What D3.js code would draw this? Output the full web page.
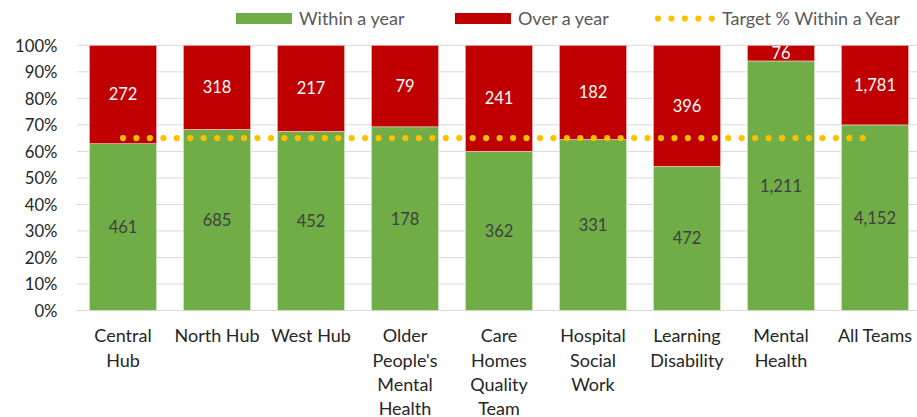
<!DOCTYPE html>
<html><head><meta charset="utf-8">
<script src="https://cdn.jsdelivr.net/npm/d3@7"></script>
<style>
html,body{margin:0;padding:0;background:#fff;}
svg{display:block;font-family:Lato, "Open Sans", sans-serif;}
</style></head>
<body><svg id="c" width="917" height="417"></svg>
<script>
const categories = [["Central","Hub"],["North Hub"],["West Hub"],["Older","People's","Mental","Health"],["Care","Homes","Quality","Team"],["Hospital","Social","Work"],["Learning","Disability"],["Mental","Health"],["All Teams"]];
const withinYear = [461,685,452,178,362,331,472,1211,4152];
const overYear = [272,318,217,79,241,182,396,76,1781];
const targetPct = 0.65;
const yTicks = [0,0.1,0.2,0.3,0.4,0.5,0.6,0.7,0.8,0.9,1];
const seriesNames = ["Within a year","Over a year","Target % Within a Year"];
const colors = {within:"#70ad47", over:"#c00000", target:"#ffc000"};

const svg = d3.select("#c");
const idx = d3.range(categories.length);
const x = d3.scaleBand().domain(idx).range([76, 922]).paddingInner(0.285).paddingOuter(0.1425);
const y = d3.scaleLinear().domain([0,1]).range([310.5, 45.3]);
const fmt = d3.format(",");

// gridlines
svg.append("g").selectAll("line").data(yTicks).join("line")
  .attr("x1",77).attr("x2",917).attr("y1",d=>y(d)).attr("y2",d=>y(d))
  .attr("stroke","#d9d9d9").attr("stroke-width",1);

// y axis labels
const yAxis = d3.axisLeft(y).tickValues(yTicks).tickFormat(d3.format(".0%")).tickSize(0).tickPadding(0);
const ga = svg.append("g").attr("transform","translate(57.5,0)").call(yAxis);
ga.select(".domain").remove();
ga.selectAll("text").attr("font-size",16.7).attr("fill","#262626").attr("font-family","Lato, sans-serif").attr("dy","0.36em");

const data = idx.map(i=>{
  const t = withinYear[i]+overYear[i];
  return {i, w: withinYear[i], o: overYear[i], pw: withinYear[i]/t};
});

const bars = svg.append("g");
bars.selectAll("rect.w").data(data).join("rect").attr("class","w")
  .attr("x",d=>x(d.i)).attr("width",x.bandwidth())
  .attr("y",d=>y(d.pw)).attr("height",d=>y(0)-y(d.pw))
  .attr("fill",colors.within).attr("stroke","#e2efd9").attr("stroke-width",0.6);
bars.selectAll("rect.o").data(data).join("rect").attr("class","o")
  .attr("x",d=>x(d.i)).attr("width",x.bandwidth())
  .attr("y",y(1)).attr("height",d=>y(d.pw)-y(1))
  .attr("fill",colors.over).attr("stroke","#f2caca").attr("stroke-width",0.6);

// target dotted line
const line = d3.line().x(d=>d[0]).y(d=>d[1]);
svg.append("path")
  .attr("d", line([[x(0)+x.bandwidth()/2, y(targetPct)],[x(idx.length-1)+x.bandwidth()/2, y(targetPct)]]))
  .attr("stroke",colors.target).attr("stroke-width",6.2).attr("stroke-linecap","round")
  .attr("stroke-dasharray","0 13.45").attr("fill","none");

// data labels
const lab = svg.append("g").attr("font-size",16.5).attr("text-anchor","middle");
lab.selectAll("text.o").data(data).join("text")
  .attr("x",d=>x(d.i)+x.bandwidth()/2).attr("y",d=>(y(1)+y(d.pw))/2).attr("dy","0.36em")
  .attr("fill","#ffffff").text(d=>fmt(d.o));
lab.selectAll("text.w").data(data).join("text")
  .attr("x",d=>x(d.i)+x.bandwidth()/2).attr("y",d=>(y(0)+y(d.pw))/2).attr("dy","0.36em")
  .attr("fill","#404040").text(d=>fmt(d.w));

// x labels
const xl = svg.append("g").attr("font-size",18).attr("text-anchor","middle").attr("fill","#262626");
categories.forEach((lines,i)=>{
  const t = xl.append("text").attr("x",x(i)+x.bandwidth()/2).attr("y",342);
  lines.forEach((s,k)=>t.append("tspan").attr("x",x(i)+x.bandwidth()/2).attr("y",342.3+k*24.3).text(s));
});

// legend
const lg = svg.append("g").attr("font-size",18).attr("fill","#595959");
lg.append("rect").attr("x",236).attr("y",13).attr("width",56).attr("height",11).attr("fill",colors.within);
lg.append("text").attr("x",299).attr("y",24.5).text(seriesNames[0]);
lg.append("rect").attr("x",455).attr("y",13).attr("width",56).attr("height",11).attr("fill",colors.over);
lg.append("text").attr("x",518).attr("y",24.5).text(seriesNames[1]);
lg.append("path").attr("d",line([[658,18.5],[714,18.5]]))
  .attr("stroke",colors.target).attr("stroke-width",6.2).attr("stroke-linecap","round")
  .attr("stroke-dasharray","0 13.45").attr("fill","none");
lg.append("text").attr("x",722).attr("y",24.5).text(seriesNames[2]);
</script></body></html>
